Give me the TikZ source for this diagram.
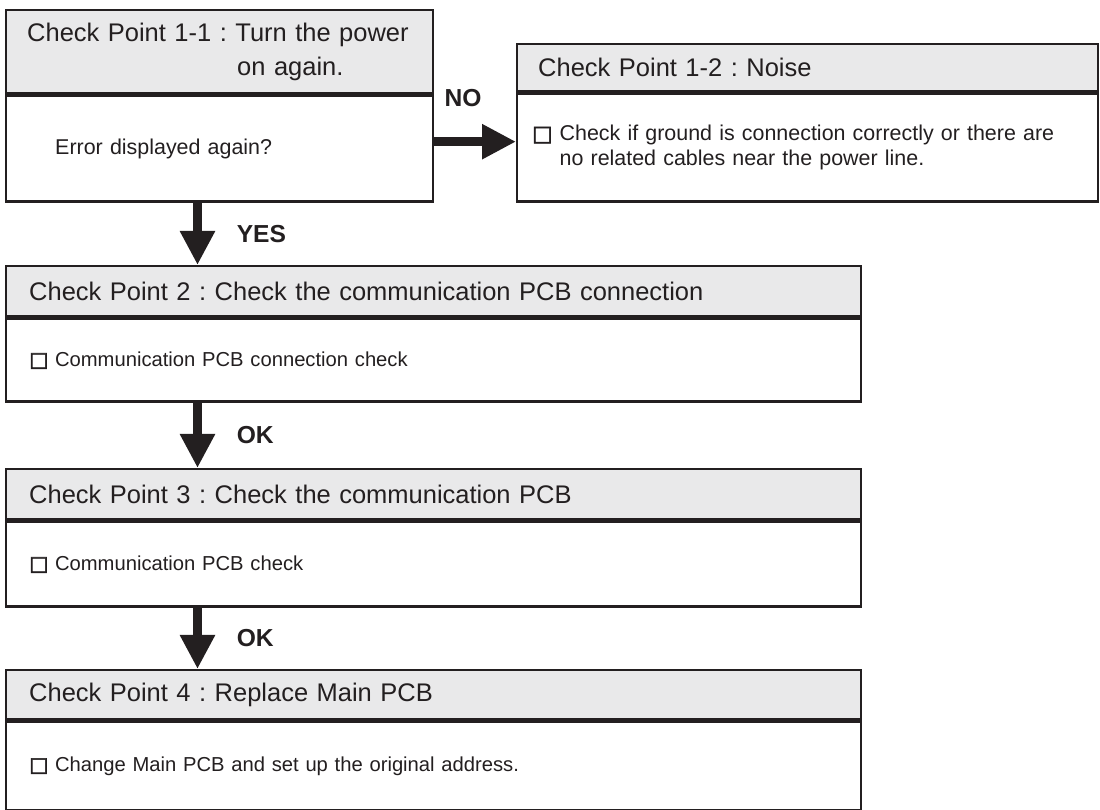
\documentclass[tikz,border=0pt]{standalone}
\usepackage{fontspec}
\setmainfont{Liberation Sans}
\newfontfamily\boxfont[FakeBold=3]{DejaVu Sans}
\usepackage{tikz}
\usetikzlibrary{arrows.meta,positioning,calc}
\definecolor{cpline}{RGB}{35,31,32}
\definecolor{cpgray}{RGB}{233,233,234}
\tikzset{
  headbox/.style={draw=cpline, line width=1.4pt, fill=cpgray, anchor=north west, inner xsep=0.46cm, inner ysep=0pt, align=left, text=cpline, font=\fontsize{14.5}{19.3}\selectfont},
  bodybox/.style={draw=cpline, line width=1.4pt, fill=white, anchor=north west, inner xsep=0.46cm, inner ysep=0pt, align=left, text=cpline, font=\fontsize{11.5}{14.2}\selectfont},
  flowarrow/.style={-{Triangle[length=0.68cm, width=0.66cm]}, line width=0.17cm, draw=cpline},
  flowlabel/.style={inner sep=0pt, font=\fontsize{14}{16}\selectfont\bfseries, text=cpline}
}
\newcommand{\chkbox}{{\boxfont □}\ }
\begin{document}
\frenchspacing
\begin{tikzpicture}
  \useasboundingbox (0,0) rectangle (22,16.2);

  %% Check point 1-1
  \node[headbox, text width=7.70cm, inner xsep=0.42cm, minimum height=1.66cm] (cp11head) at (0.10,16.02) {Check Point 1-1 : Turn the power\\\hspace*{4.20cm}on again.};
  \node[bodybox, text width=6.58cm, inner xsep=0.98cm, minimum height=2.12cm, font=\fontsize{12.2}{14.2}\selectfont] (cp11body) at (cp11head.south west) {Error displayed again?};

  %% Check point 1-2 (right)
  \node[headbox, text width=10.78cm, inner xsep=0.42cm, minimum height=0.94cm] (cp12head) at (10.32,15.34) {Check Point 1-2 : Noise};
  \node[bodybox, text width=11.02cm, inner xsep=0.30cm, minimum height=2.16cm, font=\fontsize{12.2}{14.2}\selectfont] (cp12body) at (cp12head.south west) {\chkbox Check if ground is connection correctly or there are\\\phantom{\chkbox}no related cables near the power line.};

  %% Check point 2
  \node[headbox, text width=16.18cm, minimum height=1.00cm] (cp2head) at (0.10,10.90) {Check Point 2 : Check the communication PCB connection};
  \node[bodybox, text width=16.18cm, minimum height=1.66cm] (cp2body) at (cp2head.south west) {\chkbox Communication PCB connection check};

  %% Check point 3
  \node[headbox, text width=16.18cm, minimum height=1.00cm] (cp3head) at (0.10,6.84) {Check Point 3 : Check the communication PCB};
  \node[bodybox, text width=16.18cm, minimum height=1.70cm] (cp3body) at (cp3head.south west) {\chkbox Communication PCB check};

  %% Check point 4
  \node[headbox, text width=16.18cm, minimum height=0.98cm] (cp4head) at (0.10,2.82) {Check Point 4 : Replace Main PCB};
  \node[bodybox, text width=16.18cm, minimum height=1.78cm] (cp4body) at (cp4head.south west) {\chkbox Change Main PCB and set up the original address.};

  %% Arrows
  \coordinate (ax) at (3.95,0);
  \draw[flowarrow] ([yshift=0.14cm]cp11body.east) -- ([yshift=0.14cm]cp11body.east -| cp12body.west) node[flowlabel, pos=0.35, above=0.62cm] {NO};
  \draw[flowarrow] (cp11body.south -| ax) -- (cp2head.north -| ax) node[flowlabel, midway, right=0.7cm] {YES};
  \draw[flowarrow] (cp2body.south -| ax) -- (cp3head.north -| ax) node[flowlabel, midway, right=0.7cm] {OK};
  \draw[flowarrow] (cp3body.south -| ax) -- (cp4head.north -| ax) node[flowlabel, midway, right=0.7cm] {OK};
\end{tikzpicture}
\end{document}
